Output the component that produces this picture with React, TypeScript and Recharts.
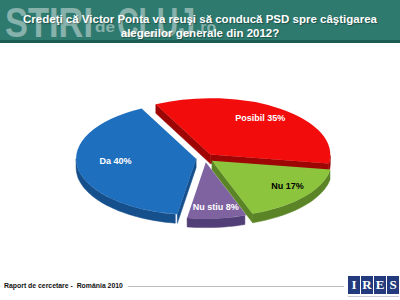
import React from "react";
import { PieChart, Pie } from "recharts";

// Survey answers, clockwise starting from the top-left cut
const names = ["Posibil", "Nu", "Nu stiu", "Da"];
const values = [35, 17, 8, 40];
const topColors = ["#f20c0c", "#8cc43e", "#7e63a0", "#1f6fbf"];
const sideColors = ["#9e0505", "#5a8426", "#523f78", "#154f8c"];
const labelColors = ["#ffffff", "#000000", "#ffffff", "#ffffff"];

const data = names.map((name, i) => ({
  name,
  value: values[i],
  top: topColors[i],
  side: sideColors[i],
  labelColor: labelColors[i],
}));

const K = 0.47; // vertical squash of the tilted pie
const DEPTH = 9;
const EXPLODE = 9;
const RAD = Math.PI / 180;

const pt = (cx: number, cy: number, r: number, a: number) => [
  cx + r * Math.cos(a * RAD),
  cy - r * K * Math.sin(a * RAD),
];

const Slice3D = (props: any) => {
  const { cx, cy, outerRadius: r, startAngle, endAngle, midAngle } = props;
  const entry = props.payload ?? props;
  const top = entry.top ?? props.top;
  const side = entry.side ?? props.side;
  const ox = cx + EXPLODE * Math.cos(midAngle * RAD);
  const oy = cy - EXPLODE * K * Math.sin(midAngle * RAD);
  const hi = Math.max(startAngle, endAngle);
  const lo = Math.min(startAngle, endAngle);

  // outer wall, only the part on the front half
  const walls: string[] = [];
  for (let n = -2; n <= 1; n++) {
    const a0 = Math.max(lo, -180 + 360 * n);
    const a1 = Math.min(hi, 360 * n);
    if (a1 <= a0) continue;
    const topPts: number[][] = [];
    for (let a = a0; a <= a1 + 0.001; a += Math.min(2, a1 - a0)) topPts.push(pt(ox, oy, r, a));
    const bottom = topPts.slice().reverse().map(([x, y]) => [x, y + DEPTH]);
    walls.push(
      "M" + topPts.concat(bottom).map(([x, y]) => `${x.toFixed(1)},${y.toFixed(1)}`).join("L") + "Z"
    );
  }

  // radial cut faces that look toward the viewer
  const cut = (a: number) => {
    const [x, y] = pt(ox, oy, r, a);
    return `M${ox},${oy}L${x},${y}L${x},${y + DEPTH}L${ox},${oy + DEPTH}Z`;
  };
  if (Math.cos(hi * RAD) < 0) walls.push(cut(hi));
  if (Math.cos(lo * RAD) > 0) walls.push(cut(lo));

  const [sx, sy] = pt(ox, oy, r, hi);
  const [ex, ey] = pt(ox, oy, r, lo);
  const large = hi - lo > 180 ? 1 : 0;
  const face = `M${ox},${oy}L${sx},${sy}A${r},${r * K} 0 ${large} 1 ${ex},${ey}Z`;

  return (
    <g>
      {walls.map((d, i) => (
        <path key={i} d={d} fill={side} stroke={side} strokeWidth={0.5} />
      ))}
      <path d={face} fill={top} />
    </g>
  );
};

const renderLabel = (props: any) => {
  const { cx, cy, outerRadius: r, midAngle, percent } = props;
  const entry = props.payload ?? props;
  // smaller slices carry their label further out, like the original
  const rr = r * (0.92 - 0.6 * percent) + EXPLODE;
  const x = cx + rr * Math.cos(midAngle * RAD);
  const y = cy - rr * K * Math.sin(midAngle * RAD) - 4;
  return (
    <text
      x={x}
      y={y}
      textAnchor="middle"
      dominantBaseline="central"
      fill={entry.labelColor ?? props.labelColor}
      fontSize={9}
      fontWeight="bold"
      fontFamily="Liberation Sans, Arial, sans-serif"
    >
      {`${entry.name ?? props.name} ${entry.value ?? props.value}%`}
    </text>
  );
};

const App = () => {
  return (
    <div
      style={{
        position: "absolute",
        left: 0,
        top: 0,
        width: 400,
        height: 300,
        background: "#ffffff",
        overflow: "hidden",
        fontFamily: "Liberation Sans, Arial, sans-serif",
      }}
    >
      {/* header band */}
      <div
        style={{
          position: "absolute",
          left: 0,
          top: 0,
          width: 400,
          height: 40,
          background: "#2e7a6f",
          borderBottom: "3px solid #1c5c52",
        }}
      >
        {/* site watermark sitting behind the title */}
        <svg
          width={400}
          height={50}
          style={{ position: "absolute", left: 0, top: 0, overflow: "visible" }}
          fontFamily="Liberation Sans, Arial, sans-serif"
          fontWeight="bold"
          fill="rgba(225,232,232,0.5)"
        >
          <text x={5} y={37} fontSize={43} textLength={88} lengthAdjust="spacingAndGlyphs">
            STIRI
          </text>
          <text x={95} y={32} fontSize={15} textLength={20} lengthAdjust="spacingAndGlyphs">
            de
          </text>
          <text x={117} y={37} fontSize={43} textLength={78} lengthAdjust="spacingAndGlyphs">
            CLUJ
          </text>
          <text x={196} y={32} fontSize={15} textLength={20} lengthAdjust="spacingAndGlyphs">
            .ro
          </text>
        </svg>
        <div
          style={{
            position: "absolute",
            left: 0,
            top: 12,
            width: 400,
            textAlign: "center",
            color: "#ffffff",
            fontWeight: "bold",
            fontSize: 11.5,
            lineHeight: "14px",
            textShadow: "1px 1px 1px rgba(0,0,0,0.35)",
          }}
        >
          Credeţi că Victor Ponta va reuşi să conducă PSD spre câştigarea
          <br />
          alegerilor generale din 2012?
        </div>
      </div>

      <div style={{ position: "absolute", left: 0, top: 0 }}>
        <PieChart width={400} height={300}>
          <Pie
            data={data}
            dataKey="value"
            nameKey="name"
            cx={200}
            cy={153}
            outerRadius={120}
            startAngle={117}
            endAngle={-243}
            stroke="none"
            shape={Slice3D}
            activeShape={Slice3D}
            inactiveShape={Slice3D}
            label={renderLabel}
            labelLine={false}
            isAnimationActive={false}
          />
        </PieChart>
      </div>

      {/* footer */}
      <div
        style={{
          position: "absolute",
          left: 4,
          top: 281,
          fontSize: 8,
          fontWeight: "bold",
          color: "#111",
          whiteSpace: "nowrap",
          transform: "scaleX(0.86)",
          transformOrigin: "left top",
        }}
      >
        Raport de cercetare -&nbsp; România 2010
      </div>
      <div
        style={{
          position: "absolute",
          left: 128,
          top: 286,
          width: 216,
          height: 1,
          background: "#bdbdbd",
        }}
      />
      <div style={{ position: "absolute", left: 348, top: 276, display: "flex", gap: 1 }}>
        {["I", "R", "E", "S"].map((ch) => (
          <div
            key={ch}
            style={{
              width: 12,
              height: 18,
              background: "#233b7c",
              color: "#fff",
              fontFamily: "Liberation Serif, serif",
              fontWeight: "bold",
              fontSize: 13,
              lineHeight: "18px",
              textAlign: "center",
            }}
          >
            {ch}
          </div>
        ))}
      </div>
      <div
        style={{
          position: "absolute",
          left: 348,
          top: 296,
          width: 51,
          height: 1,
          background: "#c8cbd6",
        }}
      />
    </div>
  );
};

export default App;
